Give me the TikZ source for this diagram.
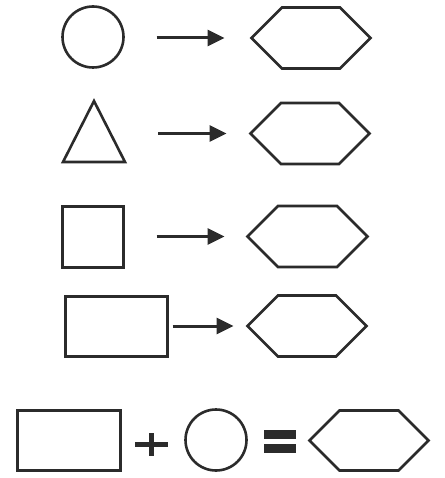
\documentclass[tikz,border=0pt]{standalone}
\usetikzlibrary{arrows.meta,shapes.geometric,shapes.symbols}
\definecolor{ink}{HTML}{2B2B2B}
\tikzset{
	shape line/.style={draw=ink,line width=2.6pt,inner sep=0pt,outer sep=0pt},
	round shape/.style={shape line,circle,minimum size=61pt},
	box shape/.style={shape line,rectangle},
	tri shape/.style={shape line,isosceles triangle,isosceles triangle stretches,shape border rotate=90,minimum width=62pt,minimum height=61pt},
	hex shape/.style={shape line,signal,signal to=west and east,signal pointer angle=90,minimum width=119pt,minimum height=61pt},
	go/.style={draw=ink,line width=3pt,-{Triangle[length=17pt,width=16pt]}},
}

\begin{document}
\begin{tikzpicture}[x=1pt,y=-1pt]
				\useasboundingbox (0,0) rectangle (444,478);
				% shapes on the left
				\node[round shape] (c1) at (93,37) {};
				\node[tri shape,anchor=apex] (t2) at (94,101) {};
				\node[box shape,minimum width=61pt,minimum height=61pt] (s3) at (93,237) {};
				\node[box shape,minimum width=102pt,minimum height=60pt] (r4) at (116.5,326.5) {};
				% hexagons on the right
				\node[hex shape] (h1) at (311,38) {};
				\node[hex shape] (h2) at (310,133.5) {};
				\node[hex shape,minimum width=120pt] (h3) at (307.5,236.5) {};
				\node[hex shape] (h4) at (307,326) {};
				% arrows
				\draw[go,shorten <=33pt,shorten >=27pt] (c1.east |- h1.west) to (h1.west);
				\draw[go,shorten <=43pt,shorten >=24pt] (t2.east |- h2.west) to (h2.west);
				\draw[go,shorten <=33pt,shorten >=23pt] (s3.east |- h3.west) to (h3.west);
				\draw[go,shorten <=5pt,shorten >=14pt] (r4.east |- h4.west) to (h4.west);
				% bottom row
				\node[box shape,minimum width=103pt,minimum height=60pt] (r5) at (69,440.5) {};
				\node[round shape] (c5) at (216,440) {};
				\node[hex shape,minimum height=60pt] (h5) at (369,440.5) {};
				\fill[ink] (135,442) rectangle (168,447);
				\fill[ink] (149,433) rectangle (154,456);
				\fill[ink] (264,430) rectangle (296,439);
				\fill[ink] (264,444) rectangle (296,453);
\end{tikzpicture}
\end{document}
